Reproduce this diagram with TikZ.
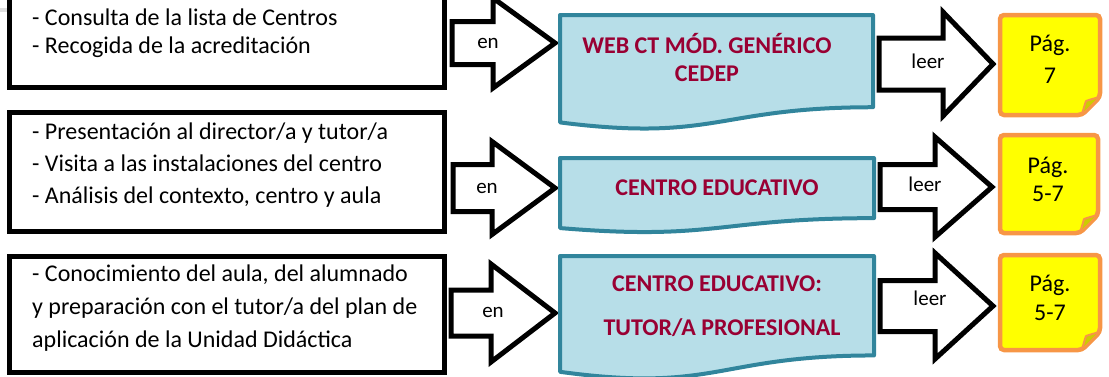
\documentclass[tikz,border=0pt]{standalone}
\usepackage{fontspec}
\setmainfont{Carlito}
\definecolor{docfill}{HTML}{B7DEE8}
\definecolor{docline}{HTML}{31859C}
\definecolor{doctext}{HTML}{990033}
\definecolor{notefill}{HTML}{FFFF00}
\definecolor{noteline}{HTML}{F79646}
\definecolor{notefoldc}{HTML}{CCCC00}
\tikzset{
  leftbox/.style={draw=black, line width=5pt, fill=white},
  blockarrow/.style={draw=black, fill=white, line width=5pt, line join=miter},
  docstyle/.style={draw=docline, fill=docfill, line width=4pt, line join=round},
  notestyle/.style={draw=noteline, fill=notefill, line width=4.5pt, rounded corners=4pt},
  foldstyle/.style={draw=noteline, fill=notefoldc, line width=2pt, line join=round},
  boxtext/.style={anchor=base west, inner sep=0pt, font=\fontsize{24}{29}\selectfont},
  doctxt/.style={anchor=base, inner sep=0pt, text=doctext, font=\fontsize{24}{29}\selectfont\bfseries},
  arrtxt/.style={anchor=base, inner sep=0pt, font=\fontsize{21}{25}\selectfont},
  notetxt/.style={anchor=base, inner sep=0pt, font=\fontsize{24}{29}\selectfont},
}
% #1 shaft left, #2 head start, #3 tip, #4 centre y, #5 shaft half height, #6 head half height
\newcommand\blkarrow[6]{%
  \draw[blockarrow] (#1,#4-#5) -- (#2,#4-#5) -- (#2,#4-#6) -- (#3,#4) -- (#2,#4+#6) -- (#2,#4+#5) -- (#1,#4+#5) -- cycle;}
% #1 x0, #2 x1, #3 top, #4 height
\newcommand\docshape[4]{%
  \draw[docstyle] (#1,#3) -- (#2,#3) -- (#2,#3+0.802*#4)
    .. controls ({(#1+#2)/2},#3+0.802*#4) and ({(#1+#2)/2},#3+1.107*#4) .. (#1,#3+0.934*#4) -- cycle;}
% #1 x0, #2 y0, #3 x1, #4 y1
\newcommand\notebox[4]{%
  \draw[notestyle] (#1,#2) -- (#3,#2) -- (#3,#4-18) -- (#3-18,#4) -- (#1,#4) -- cycle;
  \draw[foldstyle] (#3-18,#4) .. controls (#3-16,#4-8) .. (#3-14,#4-14)
    .. controls (#3-8,#4-16) .. (#3,#4-18) -- cycle;}
\begin{document}
\begin{tikzpicture}[x=1pt, y=-1pt]
\useasboundingbox (0,0) rectangle (1109,376);
\fill[gray!25] (0,8) rectangle (8,12);

% ---------- row 1 ----------
\draw[leftbox] (9.5,-10) rectangle (444.5,87.5);
\node[boxtext] (r1a) at (32,25) {- Consulta de la lista de Centros};
\node[boxtext] (r1b) at (32,53) {- Recogida de la acreditación};
\blkarrow{452}{493}{555}{43}{21.5}{45}
\node[arrtxt] (en1) at (488,48) {en};
\docshape{560}{873}{15}{115}
\node[doctxt] (d1a) at (707,53) {WEB CT MÓD. GENÉRICO};
\node[doctxt] (d1b) at (707,81) {CEDEP};
\blkarrow{879}{943}{993}{64}{26}{52}
\node[arrtxt] (l1) at (928,68) {leer};
\notebox{1000}{15}{1100}{115}
\node[notetxt] (p1a) at (1050,51) {Pág.};
\node[notetxt] (p1b) at (1050,83) {7};

% ---------- row 2 ----------
\draw[leftbox] (9.5,112) rectangle (444.5,231);
\node[boxtext] (r2a) at (32,139) {- Presentación al director/a y tutor/a};
\node[boxtext] (r2b) at (32,171) {- Visita a las instalaciones del centro};
\node[boxtext] (r2c) at (32,203) {- Análisis del contexto, centro y aula};
\blkarrow{453}{492}{555}{188}{23.5}{46.5}
\node[arrtxt] (en2) at (487,193) {en};
\docshape{560}{874}{158}{75}
\node[doctxt] (d2a) at (717,195) {CENTRO EDUCATIVO};
\blkarrow{880}{935}{992}{187}{22.5}{50}
\node[arrtxt] (l2) at (925,191) {leer};
\notebox{1000}{135}{1098}{233}
\node[notetxt] (p2a) at (1048,173) {Pág.};
\node[notetxt] (p2b) at (1048,201) {5-7};

% ---------- row 3 ----------
\draw[leftbox] (9.5,256) rectangle (444.5,372);
\node[boxtext] (r3a) at (32,281) {- Conocimiento del aula, del alumnado};
\node[boxtext] (r3b) at (32,314) {y preparación con el tutor/a del plan de};
\node[boxtext] (r3c) at (32,347) {aplicación de la Unidad Didáctica};
\blkarrow{451}{491}{555}{313}{23}{49}
\node[arrtxt] (en3) at (493,317) {en};
\docshape{560}{874}{256}{124}
\node[doctxt] (d3a) at (717,291) {CENTRO EDUCATIVO:};
\node[doctxt] (d3b) at (722,335) {TUTOR/A PROFESIONAL};
\blkarrow{880}{935}{993}{306}{25.5}{53}
\node[arrtxt] (l3) at (930,305) {leer};
\notebox{1000}{255}{1100}{350}
\node[notetxt] (p3a) at (1050,291) {Pág.};
\node[notetxt] (p3b) at (1050,320) {5-7};
\end{tikzpicture}
\end{document}
